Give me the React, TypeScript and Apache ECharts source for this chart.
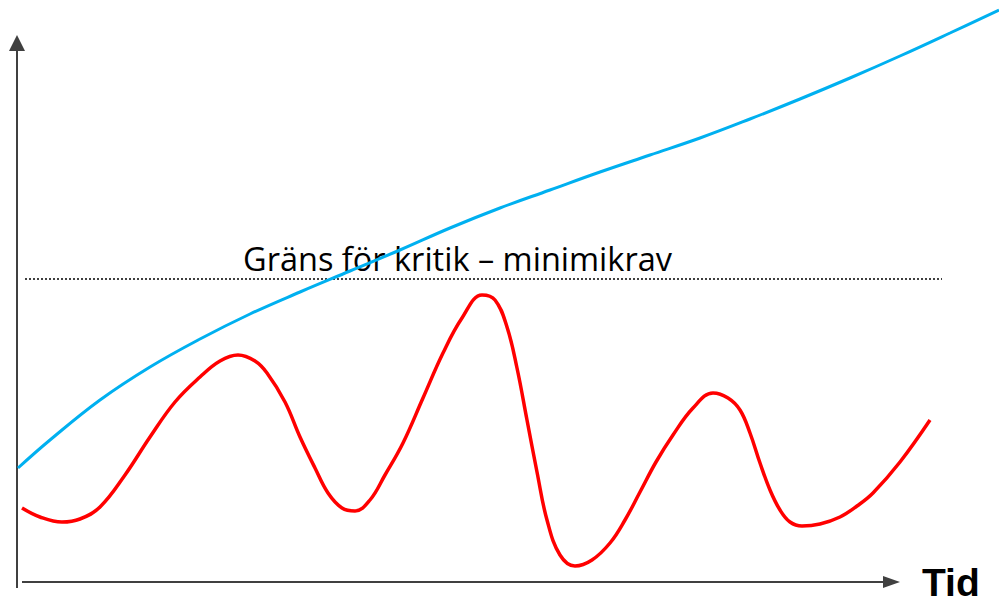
import React, { useEffect, useRef } from "react";
import * as echarts from "echarts";

// Time (x) and level (y, measured downward from top of canvas units) readings
const blueTime = [18, 50, 100, 150, 200, 250, 300, 350, 400, 450, 500, 550, 600, 650, 700, 750, 800, 850, 900, 950, 999];
const blueLevel = [468, 440, 400, 367, 339, 314, 292, 271, 250, 228, 208, 190, 172, 155, 138, 119, 99, 78, 56, 33, 10];

const redTime = [22, 40, 62, 80, 100, 125, 150, 175, 200, 220, 238, 255, 267, 285, 300, 315, 328, 342, 355, 370, 385, 403, 423, 443, 462, 482, 495, 507, 517, 527, 537, 547, 560, 575, 592, 610, 625, 640, 656, 673, 693, 713, 728, 740, 750, 760, 770, 780, 790, 802, 820, 840, 857, 873, 900, 930];
const redLevel = [508, 517, 522, 519, 507, 475, 437, 402, 377, 361, 355, 361, 373, 402, 437, 468, 493, 508, 511, 500, 475, 443, 398, 353, 318, 295, 300, 327, 368, 420, 472, 520, 555, 566, 560, 543, 520, 492, 462, 435, 408, 393, 398, 410, 433, 463, 490, 510, 522, 526, 524, 517, 506, 493, 462, 420];

const limitTime = [25, 942];
const limitLevel = [279, 279];

const limitLabel = "Gräns för kritik – minimikrav";
const axisLabel = "Tid";

function pairs(xs: number[], ys: number[]) {
  return xs.map((x, i) => [x, ys[i]]);
}

export default function App() {
  const ref = useRef<HTMLDivElement>(null);
  useEffect(() => {
    if (!ref.current) return;
    const chart = echarts.init(ref.current, null, { renderer: "svg" });
    chart.setOption({
      animation: false,
      grid: { left: 0, right: 0, top: 0, bottom: 0 },
      xAxis: { type: "value", min: 0, max: 999, show: false },
      yAxis: { type: "value", min: 0, max: 604, inverse: true, show: false },
      series: [
        {
          type: "line",
          data: pairs(limitTime, limitLevel),
          symbol: "none",
          lineStyle: { color: "#404040", width: 2, type: [2, 2] },
        },
        {
          type: "line",
          data: pairs(blueTime, blueLevel),
          smooth: 0.4,
          symbol: "none",
          lineStyle: { color: "#00B0F0", width: 3 },
        },
        {
          type: "line",
          data: pairs(redTime, redLevel),
          smooth: 0.4,
          symbol: "none",
          lineStyle: { color: "#FF0000", width: 3.5 },
        },
      ],
      graphic: [
        { type: "line", shape: { x1: 17, y1: 50, x2: 17, y2: 588 }, style: { stroke: "#404040", lineWidth: 2 } },
        { type: "polygon", shape: { points: [[9, 51], [17, 35], [25, 51]] }, style: { fill: "#404040" } },
        { type: "line", shape: { x1: 22, y1: 582, x2: 885, y2: 582 }, style: { stroke: "#404040", lineWidth: 2 } },
        { type: "polygon", shape: { points: [[883, 576], [900, 582], [883, 588]] }, style: { fill: "#404040" } },
        {
          type: "text",
          x: 922,
          y: 582,
          style: {
            text: axisLabel,
            font: "bold 39px 'Liberation Sans', Arial, sans-serif",
            fill: "#000000",
            verticalAlign: "middle",
          },
        },
        {
          type: "text",
          x: 243,
          y: 258,
          style: {
            text: limitLabel,
            font: "32.5px 'Open Sans', sans-serif",
            fill: "#000000",
            verticalAlign: "middle",
          },
        },
      ],
    });
    return () => chart.dispose();
  }, []);
  return (
    <div
      ref={ref}
      style={{ position: "fixed", left: 0, top: 0, width: 999, height: 604, background: "#ffffff" }}
    />
  );
}
